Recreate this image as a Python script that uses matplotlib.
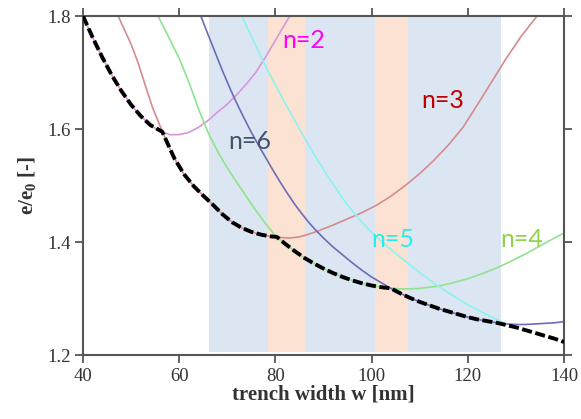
import matplotlib
matplotlib.use("Agg")
import matplotlib.pyplot as plt

plt.rcParams['mathtext.fontset'] = 'custom'
plt.rcParams['mathtext.rm'] = 'Liberation Serif'
plt.rcParams['mathtext.bf'] = 'Liberation Serif:bold'

# shaded width windows (x-ranges) and their colours
band_edges = [(66.2, 78.5), (78.5, 86.2), (86.2, 100.7), (100.7, 107.6), (107.6, 126.9)]
band_kinds = ['blue', 'orange', 'blue', 'orange', 'blue']

# mode curves e/e0 vs trench width
n2_x = [40, 42, 44, 46, 48, 50, 52, 54, 56, 58, 60, 62, 64, 66, 68, 70, 72, 74, 76, 78, 80, 82, 83]
n2_y = [1.800, 1.762, 1.727, 1.695, 1.667, 1.643, 1.623, 1.607, 1.596, 1.590, 1.590, 1.594, 1.603,
        1.615, 1.630, 1.644, 1.661, 1.680, 1.701, 1.728, 1.757, 1.786, 1.800]

n3_x = [47.3, 48.5, 50, 51.5, 53, 54.5, 56, 57.5, 59, 61, 63, 65, 67, 69, 71, 73, 75, 77, 79, 81, 83,
        85, 87, 89, 92, 95, 98, 101, 104, 107, 110, 113, 116, 119, 122, 125, 128, 131, 134.4]
n3_y = [1.800, 1.778, 1.750, 1.716, 1.676, 1.637, 1.606, 1.576, 1.548, 1.520, 1.499, 1.482, 1.466,
        1.449, 1.435, 1.425, 1.418, 1.413, 1.410, 1.408, 1.407, 1.409, 1.414, 1.420, 1.430, 1.441,
        1.452, 1.465, 1.481, 1.500, 1.521, 1.545, 1.572, 1.603, 1.643, 1.684, 1.725, 1.763, 1.800]

n4_x = [55.6, 57.5, 60, 62, 64, 66, 68, 70, 72, 74, 76, 78, 80, 82, 84, 86, 88, 90, 92, 94, 96, 98,
        100, 102, 104, 106, 108, 110, 112, 114, 117, 120, 123, 126, 129, 132, 135, 138, 140]
n4_y = [1.800, 1.768, 1.725, 1.683, 1.636, 1.594, 1.560, 1.531, 1.505, 1.480, 1.455, 1.432, 1.411,
        1.397, 1.384, 1.372, 1.362, 1.353, 1.345, 1.338, 1.332, 1.327, 1.323, 1.320, 1.318, 1.317,
        1.317, 1.318, 1.320, 1.322, 1.328, 1.335, 1.344, 1.354, 1.366, 1.379, 1.393, 1.407, 1.416]

n5_x = [73, 74.5, 76, 77.5, 79, 80.5, 82, 83.5, 85, 86.5, 88, 89.5, 91, 92.5, 94, 96, 98, 100, 102,
        104, 106, 108, 110, 112, 114, 116, 118, 120, 122, 124, 126, 127.5]
n5_y = [1.800, 1.773, 1.746, 1.719, 1.694, 1.670, 1.646, 1.623, 1.600, 1.578, 1.556, 1.535, 1.515,
        1.496, 1.477, 1.455, 1.435, 1.417, 1.401, 1.387, 1.373, 1.359, 1.346, 1.333, 1.321, 1.310,
        1.299, 1.289, 1.280, 1.271, 1.263, 1.257]

n6_x = [64.5, 66, 67.5, 69, 70.5, 72, 73.5, 75, 76.5, 78, 79.5, 81, 82.5, 84, 85.5, 87, 88.5, 90, 92,
        94, 96, 98, 100, 102, 104, 106, 108, 110, 112, 114, 116, 118, 120, 122, 124, 126, 128, 130,
        132, 134, 136, 138, 140]
n6_y = [1.800, 1.767, 1.735, 1.703, 1.673, 1.645, 1.619, 1.594, 1.571, 1.549, 1.527, 1.506, 1.486,
        1.467, 1.450, 1.434, 1.420, 1.407, 1.391, 1.377, 1.363, 1.350, 1.338, 1.328, 1.318, 1.309,
        1.301, 1.294, 1.288, 1.282, 1.277, 1.272, 1.267, 1.263, 1.260, 1.257, 1.255, 1.254, 1.254,
        1.255, 1.256, 1.257, 1.259]

# lower envelope over all modes
env_x = [40, 42, 44, 46, 48, 50, 52, 54, 56.5, 57.5, 59, 61, 63, 65, 67, 69, 71, 73, 75, 77, 79, 80.3,
         82, 84, 86, 88, 90, 92, 94, 96, 98, 100, 102, 104, 106, 108, 110, 112, 114, 116, 118, 120,
         122, 124, 126, 128, 130, 132, 134, 136, 138, 140]
env_y = [1.800, 1.762, 1.727, 1.695, 1.667, 1.643, 1.623, 1.607, 1.595, 1.576, 1.548, 1.520, 1.499,
         1.482, 1.466, 1.449, 1.435, 1.425, 1.418, 1.413, 1.410, 1.409, 1.397, 1.384, 1.372, 1.362,
         1.353, 1.345, 1.338, 1.332, 1.327, 1.323, 1.320, 1.318, 1.309, 1.301, 1.294, 1.288, 1.282,
         1.277, 1.272, 1.267, 1.263, 1.260, 1.257, 1.253, 1.249, 1.244, 1.239, 1.234, 1.229, 1.223]

labels = ['n=2', 'n=3', 'n=4', 'n=5', 'n=6']
label_x = [85.8, 114.8, 131.1, 104.5, 74.7]
label_y = [1.756, 1.651, 1.404, 1.404, 1.577]
label_colors = ['#ff00ff', '#c00000', '#92d050', '#22f0f0', '#44546a']

curves = [(n2_x, n2_y, '#d896dc'), (n3_x, n3_y, '#d48c8c'), (n4_x, n4_y, '#8ee48e'),
          (n5_x, n5_y, '#8cf2f0'), (n6_x, n6_y, '#6c6cb8')]
band_colors = {'blue': '#dce6f2', 'orange': '#fce2d2'}

fig = plt.figure(figsize=(5.81, 4.19), dpi=100)
ax = fig.add_axes([83 / 581, 1 - 355 / 419, (564 - 83) / 581, (355 - 16) / 419])

for (x0, x1), kind in zip(band_edges, band_kinds):
    ax.fill_between([x0, x1], 1.205, 1.8, color=band_colors[kind], lw=0, zorder=0)

for cx, cy, col in curves:
    ax.plot(cx, cy, color=col, lw=1.2, zorder=2, solid_joinstyle='round')

ax.plot(env_x, env_y, color='black', lw=2.8, dashes=(2.6, 0.9), zorder=3)

for t, x, y, c in zip(labels, label_x, label_y, label_colors):
    ax.text(x, y, t, color=c, fontsize=18, family='Lato', ha='center', va='center', zorder=4)

ax.set_xlim(40, 140)
ax.set_ylim(1.2, 1.8)
ax.set_xticks([40, 60, 80, 100, 120, 140])
ax.set_yticks([1.2, 1.4, 1.6, 1.8])
ax.set_yticklabels(['1.2', '1.4', '1.6', '1.8'])

for s in ax.spines.values():
    s.set_color('#555555')
    s.set_linewidth(1.5)
ax.tick_params(direction='out', length=6, width=1.3, color='#555555',
               top=True, right=True, labeltop=False, labelright=False,
               labelsize=13.5, labelcolor='#333333', pad=3)
for lab in ax.get_xticklabels() + ax.get_yticklabels():
    lab.set_family('Liberation Serif')

ax.set_xlabel('trench width w [nm]', family='Liberation Serif', fontsize=15,
              fontweight='bold', color='#333333', labelpad=0)
ax.set_ylabel(r'e/e$_\mathbf{0}$ [-]', family='Liberation Serif', fontsize=15,
              fontweight='bold', color='#333333', labelpad=6)

fig.savefig('out.png', dpi=100)
